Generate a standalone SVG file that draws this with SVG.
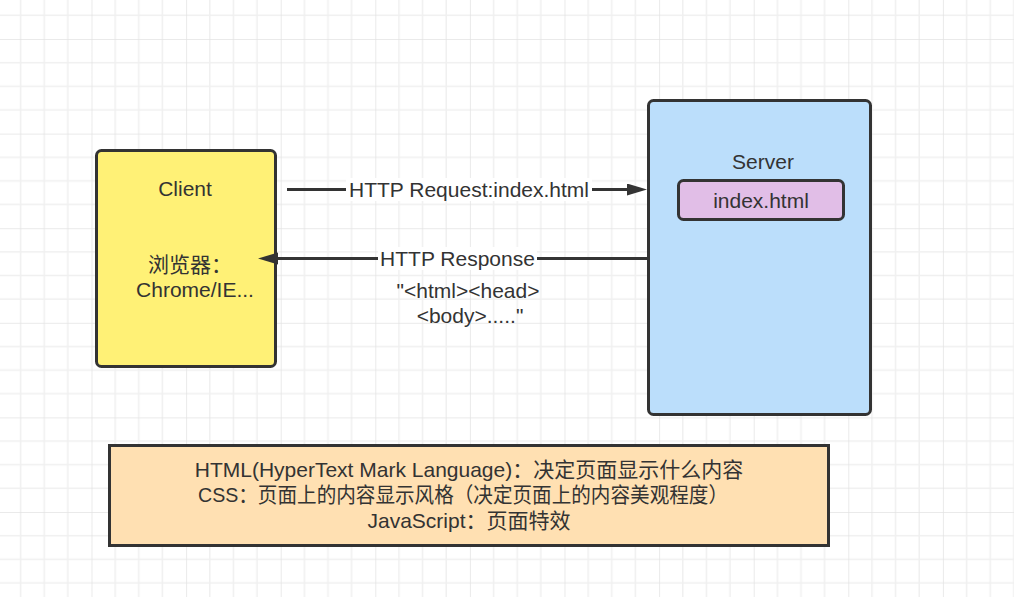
<svg xmlns="http://www.w3.org/2000/svg" width="1014" height="597" viewBox="0 0 1014 597">
<defs>
<pattern id="grid" patternUnits="userSpaceOnUse" x="91.5" y="39" width="94.6" height="94.6">
<path d="M23.65 0V94.6M47.3 0V94.6M70.95 0V94.6M0 23.65H94.6M0 47.3H94.6M0 70.95H94.6" stroke="#f0f0f0" stroke-width="1.5" fill="none"/>
<path d="M0 0V94.6M0 0H94.6" stroke="#e3e3e3" stroke-width="1.5" fill="none"/>
</pattern>
<marker id="arr" markerUnits="userSpaceOnUse" markerWidth="20" markerHeight="14" refX="3" refY="6" orient="auto">
<path d="M0 0L20 6L0 12Z" fill="#333"/>
</marker>
<style>
.box{stroke:#333;stroke-width:3}
.t{font-family:"Liberation Sans","Noto Sans CJK SC",sans-serif;font-size:21px;fill:#333;text-anchor:middle;dominant-baseline:central}
.c{stroke:#333;stroke-width:3;fill:none}
</style>
</defs>
<rect width="1014" height="597" fill="#fff"/>
<rect width="1014" height="597" fill="url(#grid)"/>
<g id="client">
<rect class="box" x="96.5" y="150.5" width="179" height="216" rx="5" fill="#fff176"/>
<text class="t" x="185" y="188">Client</text>
<text class="t"><tspan x="190" y="264">浏览器：</tspan><tspan x="195" y="289">Chrome/IE...</tspan></text>
</g>
<g id="server">
<rect class="box" x="648.5" y="100.5" width="222" height="314" rx="5" fill="#bbdefb"/>
<text class="t" x="763" y="161">Server</text>
</g>
<g id="index">
<rect class="box" x="678.5" y="180.5" width="165" height="39" rx="5" fill="#e1bee7"/>
<text class="t" x="761" y="200">index.html</text>
</g>
<g id="notes">
<rect class="box" x="109.5" y="445.5" width="719" height="100" fill="#ffe0b2"/>
<text class="t"><tspan x="469" y="469">HTML(HyperText Mark Language)：决定页面显示什么内容</tspan><tspan x="463" y="494" textLength="530" lengthAdjust="spacingAndGlyphs">CSS：页面上的内容显示风格（决定页面上的内容美观程度）</tspan><tspan x="469" y="520">JavaScript：页面特效</tspan></text>
</g>
<g id="connectors">
<path class="c" d="M287 189.5H630" marker-end="url(#arr)"/>
<rect x="346" y="178" width="246" height="23" fill="#fff"/>
<text class="t" x="469" y="189.5">HTTP Request:index.html</text>
<path class="c" d="M648 258.5H275" marker-end="url(#arr)"/>
<rect x="378" y="247" width="159" height="23" fill="#fff"/>
<text class="t" x="457.5" y="258.5">HTTP Response</text>
<text class="t"><tspan x="468" y="290">"&lt;html&gt;&lt;head&gt;</tspan><tspan x="470" y="315">&lt;body&gt;....."</tspan></text>
</g>
</svg>
